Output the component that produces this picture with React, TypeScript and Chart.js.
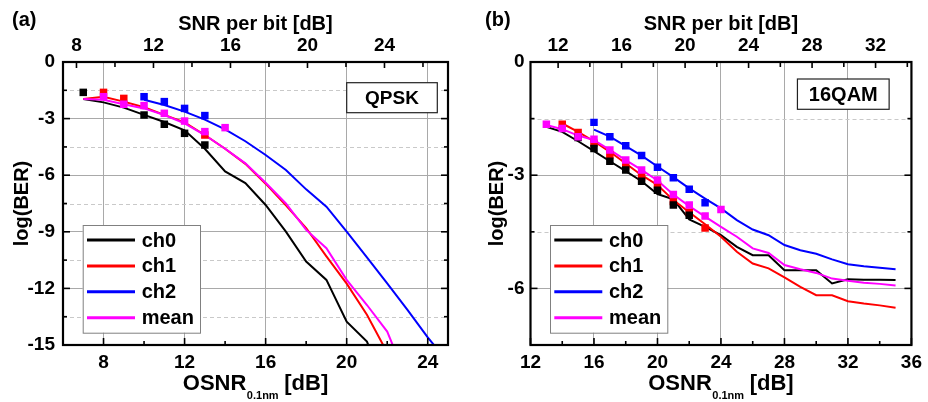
import { useEffect, useRef } from 'react';
import { Chart, registerables } from 'chart.js';

Chart.register(...registerables);

const FONT_FAMILY = '"Liberation Sans", Arial, Helvetica, sans-serif';

// ---------------- Panel (a): QPSK ----------------
const qpskOsnrTicks = [8, 10, 12, 14, 16, 18, 20, 22, 24];
const qpskSnrTicks = [8, 10, 12, 14, 16, 18, 20, 22, 24, 26];
const qpskBerTicks = [-15, -13.5, -12, -10.5, -9, -7.5, -6, -4.5, -3, -1.5, 0];

const qpskCh0CurveX = [7, 8, 9, 10, 11, 12, 13, 14, 15, 16, 17, 18, 19, 20, 21, 22];
const qpskCh0CurveY = [-1.96, -2.14, -2.42, -2.8, -3.18, -3.62, -4.6, -5.8, -6.42, -7.58, -8.99, -10.58, -11.55, -13.76, -14.82, -17.5];
const qpskCh1CurveX = [7, 8, 9, 10, 11, 12, 13, 14, 15, 16, 17, 18, 19, 20, 21, 22];
const qpskCh1CurveY = [-1.96, -1.84, -2.1, -2.4, -2.8, -3.2, -3.87, -4.6, -5.4, -6.45, -7.6, -8.8, -10.3, -11.75, -13.4, -15.4];
const qpskCh2CurveX = [10, 11, 12, 13, 14, 15, 16, 17, 18, 19, 20, 21, 22, 23, 24, 25];
const qpskCh2CurveY = [-2.0, -2.28, -2.63, -3.05, -3.57, -4.2, -4.93, -5.72, -6.75, -7.67, -8.99, -10.35, -11.73, -13.14, -14.6, -15.9];
const qpskMeanCurveX = [7, 8, 9, 10, 11, 12, 13, 14, 15, 16, 17, 18, 19, 20, 21, 22, 23];
const qpskMeanCurveY = [-1.96, -2.0, -2.24, -2.46, -2.81, -3.25, -3.87, -4.6, -5.37, -6.4, -7.5, -8.9, -9.87, -11.55, -12.88, -14.29, -16.9];

const qpskCh0MeasX = [7, 10, 11, 12, 13];
const qpskCh0MeasY = [-1.61, -2.81, -3.3, -3.78, -4.4];
const qpskCh1MeasX = [8, 9, 13];
const qpskCh1MeasY = [-1.61, -1.93, -3.87];
const qpskCh2MeasX = [10, 11, 12, 13];
const qpskCh2MeasY = [-1.84, -2.1, -2.46, -2.84];
const qpskMeanMeasX = [8, 9, 10, 11, 12, 13, 14];
const qpskMeanMeasY = [-1.84, -2.24, -2.31, -2.72, -3.13, -3.69, -3.48];

// ---------------- Panel (b): 16QAM ----------------
const qamOsnrTicks = [12, 14, 16, 18, 20, 22, 24, 26, 28, 30, 32, 34, 36];
const qamSnrTicks = [12, 14, 16, 18, 20, 22, 24, 26, 28, 30, 32, 34];
const qamBerTicks = [-7.5, -6, -4.5, -3, -1.5, 0];

const qamCh0CurveX = [13, 14, 15, 16, 17, 18, 19, 20, 21, 22, 23, 24, 25, 26, 27, 28, 29, 30, 31, 32, 33, 34, 35];
const qamCh0CurveY = [-1.72, -1.85, -2.1, -2.36, -2.63, -2.89, -3.16, -3.5, -3.64, -4.17, -4.37, -4.59, -4.9, -5.12, -5.12, -5.52, -5.52, -5.52, -5.87, -5.76, -5.77, -5.77, -5.78];
const qamCh1CurveX = [14, 15, 16, 17, 18, 19, 20, 21, 22, 23, 24, 25, 26, 27, 28, 29, 30, 31, 32, 33, 34, 35];
const qamCh1CurveY = [-1.63, -1.85, -2.1, -2.38, -2.69, -3.0, -3.26, -3.66, -3.98, -4.3, -4.63, -5.03, -5.34, -5.47, -5.71, -5.96, -6.18, -6.18, -6.34, -6.4, -6.45, -6.51];
const qamCh2CurveX = [16, 17, 18, 19, 20, 21, 22, 23, 24, 25, 26, 27, 28, 29, 30, 31, 32, 33, 34, 35];
const qamCh2CurveY = [-1.79, -1.98, -2.23, -2.48, -2.77, -3.05, -3.35, -3.62, -3.88, -4.19, -4.44, -4.59, -4.85, -4.99, -5.08, -5.23, -5.36, -5.41, -5.45, -5.49];
const qamMeanCurveX = [13, 14, 15, 16, 17, 18, 19, 20, 21, 22, 23, 24, 25, 26, 27, 28, 29, 30, 31, 32, 33, 34, 35];
const qamMeanCurveY = [-1.67, -1.78, -1.95, -2.07, -2.33, -2.6, -2.86, -3.14, -3.51, -3.82, -4.1, -4.37, -4.63, -4.94, -5.06, -5.38, -5.49, -5.59, -5.74, -5.8, -5.85, -5.88, -5.92];

const qamCh0MeasX = [15, 16, 17, 18, 19, 20, 21, 22];
const qamCh0MeasY = [-2.0, -2.29, -2.63, -2.86, -3.16, -3.4, -3.79, -4.06];
const qamCh1MeasX = [14, 15, 16, 17, 18, 19, 20, 21, 22, 23];
const qamCh1MeasY = [-1.65, -1.87, -2.15, -2.46, -2.75, -3.04, -3.26, -3.7, -3.98, -4.4];
const qamCh2MeasX = [16, 17, 18, 19, 20, 21, 22, 23];
const qamCh2MeasY = [-1.6, -1.98, -2.22, -2.48, -2.79, -3.07, -3.37, -3.73];
const qamMeanMeasX = [13, 14, 15, 16, 17, 18, 19, 20, 21, 22, 23, 24];
const qamMeanMeasY = [-1.65, -1.76, -1.98, -2.05, -2.33, -2.6, -2.86, -3.13, -3.51, -3.79, -4.08, -3.91];

const seriesNames = ['ch0', 'ch1', 'ch2', 'mean'];
const seriesColors = ['#000000', '#ff0000', '#0000ff', '#ff00ff'];

const pts = (xs: number[], ys: number[]) => xs.map((x, i) => ({ x, y: ys[i] }));

type Panel = {
  id: string;
  canvasLeft: number;
  width: number;
  yAxisWidth: number;
  rightPad: number;
  yTickPad: number;
  yTitlePad: number;
  xMin: number; xMax: number;
  x2Min: number; x2Max: number;
  yMin: number; yMax: number;
  xTicks: number[]; x2Ticks: number[]; yTicks: number[];
  label: string; labelX: number;
  tag: string; tagFont: number; tagRect: { right: number; top: number; w: number; h: number };
  legendRect: { left: number; top: number; w: number; h: number };
  curves: { x: number[]; y: number[] }[];
  meas: { x: number[]; y: number[] }[];
};

const PANELS: Panel[] = [
  {
    id: 'a', canvasLeft: 0, width: 464, yAxisWidth: 63, rightPad: 16, yTickPad: 8, yTitlePad: 10.5,
    xMin: 6, xMax: 25, x2Min: 7.3, x2Max: 27.3, yMin: -15, yMax: 0,
    xTicks: qpskOsnrTicks, x2Ticks: qpskSnrTicks, yTicks: qpskBerTicks,
    label: '(a)', labelX: 12,
    tag: 'QPSK', tagFont: 19, tagRect: { right: 10.7, top: 20.7, w: 90.6, h: 30 },
    legendRect: { left: 19.7, top: 163, w: 117.3, h: 107.7 },
    curves: [
      { x: qpskCh0CurveX, y: qpskCh0CurveY }, { x: qpskCh1CurveX, y: qpskCh1CurveY },
      { x: qpskCh2CurveX, y: qpskCh2CurveY }, { x: qpskMeanCurveX, y: qpskMeanCurveY },
    ],
    meas: [
      { x: qpskCh0MeasX, y: qpskCh0MeasY }, { x: qpskCh1MeasX, y: qpskCh1MeasY },
      { x: qpskCh2MeasX, y: qpskCh2MeasY }, { x: qpskMeanMeasX, y: qpskMeanMeasY },
    ],
  },
  {
    id: 'b', canvasLeft: 464, width: 464, yAxisWidth: 66.5, rightPad: 14, yTickPad: 6, yTitlePad: 21.5,
    xMin: 12, xMax: 36, x2Min: 10.26, x2Max: 34.26, yMin: -7.5, yMax: 0,
    xTicks: qamOsnrTicks, x2Ticks: qamSnrTicks, yTicks: qamBerTicks,
    label: '(b)', labelX: 21,
    tag: '16QAM', tagFont: 20, tagRect: { right: 22.3, top: 17, w: 91.7, h: 30.3 },
    legendRect: { left: 19.5, top: 163, w: 117.3, h: 107.7 },
    curves: [
      { x: qamCh0CurveX, y: qamCh0CurveY }, { x: qamCh1CurveX, y: qamCh1CurveY },
      { x: qamCh2CurveX, y: qamCh2CurveY }, { x: qamMeanCurveX, y: qamMeanCurveY },
    ],
    meas: [
      { x: qamCh0MeasX, y: qamCh0MeasY }, { x: qamCh1MeasX, y: qamCh1MeasY },
      { x: qamCh2MeasX, y: qamCh2MeasY }, { x: qamMeanMeasX, y: qamMeanMeasY },
    ],
  },
];

const isMult = (v: number, step: number) => Math.abs(v / step - Math.round(v / step)) < 1e-6;

function makeDecor(p: Panel) {
  return {
    id: 'decor_' + p.id,
    beforeDatasetsDraw(chart: any) {
      const { ctx, chartArea: ca } = chart;
      const ys = chart.scales.y;
      ctx.save();
      ctx.strokeStyle = '#c9c9c9';
      ctx.lineWidth = 1;
      ctx.setLineDash([4, 3]);
      for (const v of p.yTicks) {
        if (isMult(v, 3)) continue;
        if (v <= p.yMin || v >= p.yMax) continue;
        const py = Math.round(ys.getPixelForValue(v)) + 0.5;
        ctx.beginPath();
        ctx.moveTo(ca.left, py);
        ctx.lineTo(ca.right, py);
        ctx.stroke();
      }
      ctx.restore();
    },
    afterDatasetsDraw(chart: any) {
      const { ctx, chartArea: ca } = chart;
      const xs = chart.scales.x;
      const x2 = chart.scales.x2;
      const ys = chart.scales.y;
      ctx.save();
      ctx.setLineDash([]);
      // tick marks pointing inwards
      ctx.strokeStyle = '#000';
      ctx.lineWidth = 1.6;
      const tick = (x1: number, y1: number, xx: number, yy: number) => {
        ctx.beginPath(); ctx.moveTo(x1, y1); ctx.lineTo(xx, yy); ctx.stroke();
      };
      for (const v of p.xTicks) {
        const px = xs.getPixelForValue(v);
        const len = isMult(v, 4) ? 7 : 4;
        tick(px, ca.bottom, px, ca.bottom - len);
      }
      for (const v of p.x2Ticks) {
        const px = x2.getPixelForValue(v);
        const len = isMult(v, 4) ? 6 : 5;
        tick(px, ca.top, px, ca.top + len);
      }
      for (const v of p.yTicks) {
        const py = ys.getPixelForValue(v);
        const len = isMult(v, 3) ? 7 : 4;
        tick(ca.left, py, ca.left + len, py);
        tick(ca.right, py, ca.right - len, py);
      }
      // frame
      ctx.lineWidth = 2.2;
      ctx.strokeRect(ca.left, ca.top, ca.right - ca.left, ca.bottom - ca.top);

      // modulation tag
      const t = p.tagRect;
      const tx = ca.right - t.right - t.w;
      const ty = ca.top + t.top;
      ctx.fillStyle = '#fff';
      ctx.fillRect(tx, ty, t.w, t.h);
      ctx.strokeStyle = '#222';
      ctx.lineWidth = 1.2;
      ctx.strokeRect(tx, ty, t.w, t.h);
      ctx.fillStyle = '#000';
      ctx.font = `bold ${p.tagFont}px ${FONT_FAMILY}`;
      ctx.textAlign = 'center';
      ctx.textBaseline = 'middle';
      ctx.fillText(p.tag, tx + t.w / 2, ty + t.h / 2 + 1);

      // legend
      const L = p.legendRect;
      const lx = ca.left + L.left;
      const ly = ca.top + L.top;
      ctx.fillStyle = '#fff';
      ctx.fillRect(lx, ly, L.w, L.h);
      ctx.strokeStyle = '#808080';
      ctx.lineWidth = 1;
      ctx.strokeRect(lx + 0.5, ly + 0.5, L.w, L.h);
      ctx.font = `bold 20px ${FONT_FAMILY}`;
      ctx.textAlign = 'left';
      ctx.textBaseline = 'middle';
      const curveSets = chart.data.datasets.filter((d: any) => d.isCurve);
      curveSets.forEach((d: any, i: number) => {
        const ry = ly + 15 + i * 25.9;
        ctx.strokeStyle = d.borderColor;
        ctx.lineWidth = 3;
        ctx.beginPath();
        ctx.moveTo(lx + 4.3, ry);
        ctx.lineTo(lx + 52.3, ry);
        ctx.stroke();
        ctx.fillStyle = '#000';
        ctx.fillText(d.label, lx + 59, ry + 1);
      });
      ctx.restore();
    },
    afterDraw(chart: any) {
      const { ctx, chartArea: ca } = chart;
      ctx.save();
      ctx.fillStyle = '#000';
      // panel label
      ctx.font = `bold 20px ${FONT_FAMILY}`;
      ctx.textAlign = 'left';
      ctx.textBaseline = 'alphabetic';
      ctx.fillText(p.label, p.labelX, 26);
      // bottom axis title with subscript
      const big = `bold 22px ${FONT_FAMILY}`;
      const small = `bold 11px ${FONT_FAMILY}`;
      ctx.font = big;
      const w1 = ctx.measureText('OSNR').width;
      const w3 = ctx.measureText(' [dB]').width;
      ctx.font = small;
      const w2 = ctx.measureText('0.1nm').width;
      const cx = (ca.left + ca.right) / 2;
      let x0 = cx - (w1 + w2 + w3) / 2;
      ctx.font = big;
      ctx.fillText('OSNR', x0, 390);
      x0 += w1;
      ctx.font = small;
      ctx.fillText('0.1nm', x0 + 0.5, 399);
      x0 += w2;
      ctx.font = big;
      ctx.fillText(' [dB]', x0, 390);
      ctx.restore();
    },
  };
}

function buildConfig(p: Panel): any {
  const tickFont = { family: FONT_FAMILY, size: 19, weight: 'bold' as const };
  const titleFont = { family: FONT_FAMILY, size: 20, weight: 'bold' as const };
  const curveOrder = [7, 6, 5, 4];
  const measOrder = [2, 3, 1, 0];
  const datasets: any[] = [];
  p.curves.forEach((c, i) => {
    datasets.push({
      label: seriesNames[i],
      isCurve: true,
      data: pts(c.x, c.y),
      borderColor: seriesColors[i],
      backgroundColor: seriesColors[i],
      borderWidth: 2,
      pointRadius: 0,
      pointHoverRadius: 0,
      showLine: true,
      tension: 0,
      order: curveOrder[i],
    });
  });
  p.meas.forEach((m, i) => {
    datasets.push({
      label: seriesNames[i] + ' measured',
      isCurve: false,
      data: pts(m.x, m.y),
      showLine: false,
      pointStyle: 'rect',
      pointRadius: 5.3,
      pointHoverRadius: 5.3,
      pointBackgroundColor: seriesColors[i],
      pointBorderColor: seriesColors[i],
      pointBorderWidth: 0,
      borderColor: seriesColors[i],
      backgroundColor: seriesColors[i],
      order: measOrder[i],
    });
  });
  const setTicks = (vals: number[]) => (scale: any) => {
    scale.ticks = vals.map((v) => ({ value: v }));
  };
  return {
    type: 'line',
    data: { datasets },
    options: {
      animation: false,
      responsive: false,
      devicePixelRatio: 1,
      layout: { padding: { left: 0, right: p.rightPad, top: 0, bottom: 0 } },
      plugins: { legend: { display: false }, tooltip: { enabled: false } },
      events: [],
      scales: {
        x: {
          type: 'linear', position: 'bottom', min: p.xMin, max: p.xMax,
          afterBuildTicks: setTicks(p.xTicks),
          afterFit: (s: any) => { s.height = 57; },
          ticks: {
            autoSkip: false, maxRotation: 0, padding: 6, font: tickFont, color: '#000',
            callback: (v: number) => (isMult(v, 4) ? String(v) : ''),
          },
          grid: {
            drawTicks: false, lineWidth: 1,
            color: (c: any) => (c.tick && isMult(c.tick.value, 4) ? '#a9a9a9' : 'rgba(0,0,0,0)'),
          },
          border: { display: false },
        },
        x2: {
          type: 'linear', position: 'top', min: p.x2Min, max: p.x2Max,
          afterBuildTicks: setTicks(p.x2Ticks),
          afterFit: (s: any) => { s.height = 62; },
          ticks: {
            autoSkip: false, maxRotation: 0, padding: 5, font: tickFont, color: '#000',
            callback: (v: number) => (isMult(v, 4) ? String(v) : ''),
          },
          grid: { display: false, drawTicks: false },
          border: { display: false },
          title: { display: true, text: 'SNR per bit [dB]', font: titleFont, color: '#000', padding: { top: 12, bottom: 0 } },
        },
        y: {
          type: 'linear', position: 'left', min: p.yMin, max: p.yMax,
          afterBuildTicks: setTicks(p.yTicks),
          afterFit: (s: any) => { s.width = p.yAxisWidth; },
          ticks: {
            autoSkip: false, padding: p.yTickPad, font: tickFont, color: '#000',
            callback: (v: number) => (isMult(v, 3) ? String(Math.round(v)) : ''),
          },
          grid: {
            drawTicks: false, lineWidth: 1,
            color: (c: any) => (c.tick && isMult(c.tick.value, 3) ? '#a9a9a9' : 'rgba(0,0,0,0)'),
          },
          border: { display: false },
          title: { display: true, text: 'log(BER)', font: titleFont, color: '#000', padding: { top: p.yTitlePad, bottom: 0 } },
        },
      },
    },
    plugins: [makeDecor(p)],
  };
}

function PanelChart({ panel }: { panel: Panel }) {
  const ref = useRef<HTMLCanvasElement | null>(null);
  useEffect(() => {
    if (!ref.current) return;
    const chart = new Chart(ref.current, buildConfig(panel));
    return () => chart.destroy();
  }, [panel]);
  return (
    <canvas
      ref={ref}
      width={panel.width}
      height={402}
      style={{ position: 'absolute', left: panel.canvasLeft, top: 0, width: panel.width, height: 402 }}
    />
  );
}

export default function App() {
  return (
    <div style={{ position: 'absolute', left: 0, top: 0, width: 928, height: 402, background: '#fff', overflow: 'hidden' }}>
      {PANELS.map((p) => (
        <PanelChart key={p.id} panel={p} />
      ))}
    </div>
  );
}
